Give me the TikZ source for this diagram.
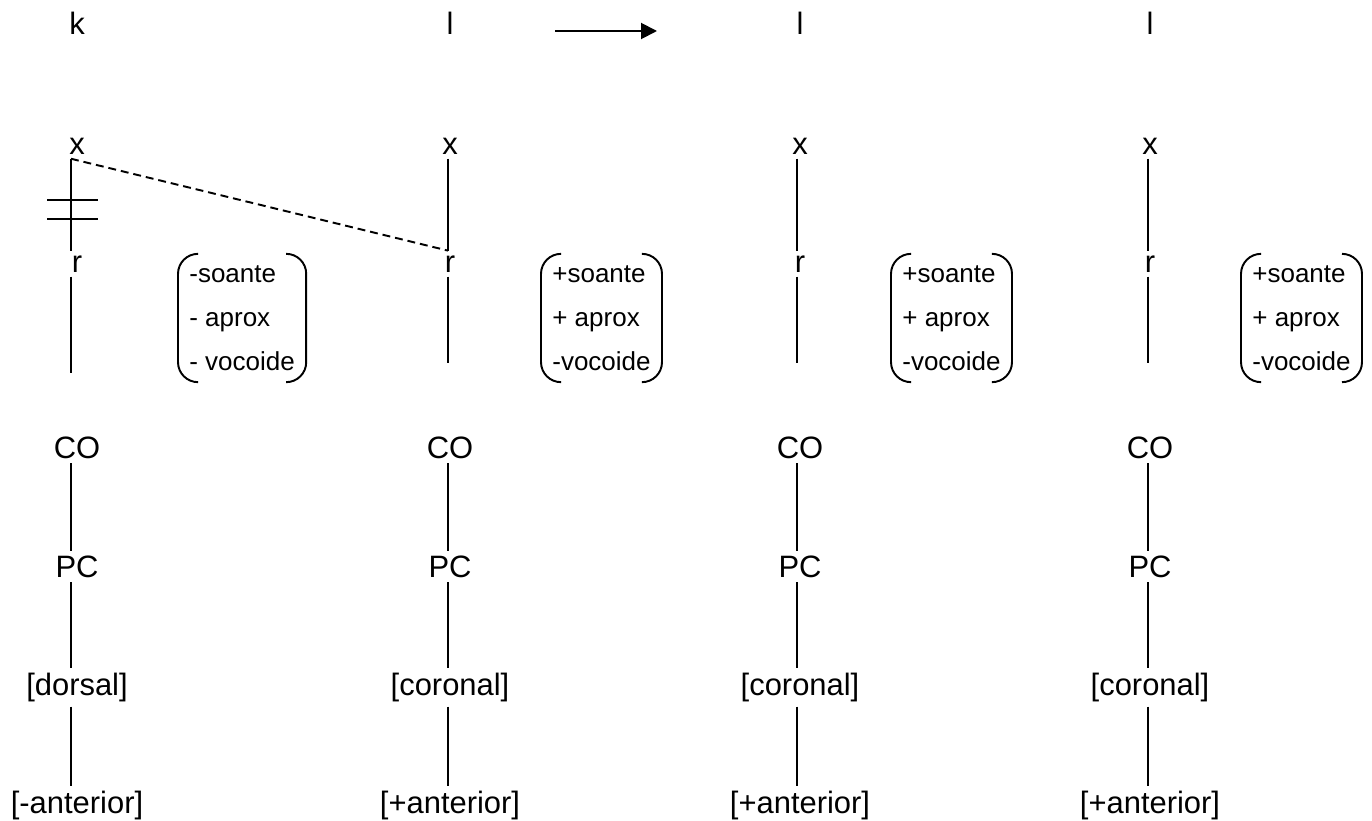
\documentclass[tikz,border=0pt]{standalone}
\usepackage{fontspec}
\setmainfont{Liberation Sans}
\usetikzlibrary{calc,arrows.meta}
\tikzset{
    lab/.style={
        font=\fontsize{17.6}{21}\selectfont, inner sep=2.5pt, anchor=base
    },
    feat/.style={
        font=\fontsize{14.8}{25.2}\selectfont, align=left,
        inner xsep=0.22cm, inner ysep=0.22cm, anchor=west
    }
}
% round brackets around a feature node
\newcommand{\featparens}[1]{%
  \draw[line width=1.1pt, rounded corners=0.4cm]
    ($(#1.north west)+(20,0)$) -- (#1.north west) -- (#1.south west) -- ($(#1.south west)+(20,0)$);
  \draw[line width=1.1pt, rounded corners=0.4cm]
    ($(#1.north east)+(-20,0)$) -- (#1.north east) -- (#1.south east) -- ($(#1.south east)+(-20,0)$);
}

\begin{document}
\begin{tikzpicture}[x=0.02cm, y=-0.02cm]

\tikzset{
  link/.style={line width=1.1pt},
  gone/.style={line width=1.1pt, dash pattern=on 4.5pt off 2.8pt}
}

\useasboundingbox (0,0) rectangle (1372,821);

% column axes
\coordinate (ax1) at (71,0);
\coordinate (ax2) at (448,0);
\coordinate (ax3) at (797,0);
\coordinate (ax4) at (1148,0);

% segments
\node[lab] (seg1) at (77,35) {k};
\node[lab] (seg2) at (450,35) {l};
\node[lab] (seg3) at (800,35) {l};
\node[lab] (seg4) at (1150,35) {l};

% timing slots
\node[lab] (x1) at (77,154) {x};
\node[lab] (x2) at (450,154) {x};
\node[lab] (x3) at (800,154) {x};
\node[lab] (x4) at (1150,154) {x};

% root
\node[lab] (r1) at (77,272) {r};
\node[lab] (r2) at (450,272) {r};
\node[lab] (r3) at (800,272) {r};
\node[lab] (r4) at (1150,272) {r};

\coordinate (rend1) at (71,373);
\coordinate (rend2) at (448,363);
\coordinate (rend3) at (797,363);
\coordinate (rend4) at (1148,363);

% root features
\node[feat] (f1) at (178,318) {-soante\\- aprox\\- vocoide};
\node[feat] (f2) at (541,318) {+soante\\+ aprox\\-vocoide};
\node[feat] (f3) at (891,318) {+soante\\+ aprox\\-vocoide};
\node[feat] (f4) at (1241,318) {+soante\\+ aprox\\-vocoide};
\featparens{f1}
\featparens{f2}
\featparens{f3}
\featparens{f4}

% oral cavity, place
\node[lab] (co1) at (77,458) {CO};
\node[lab] (co2) at (450,458) {CO};
\node[lab] (co3) at (800,458) {CO};
\node[lab] (co4) at (1150,458) {CO};

\node[lab] (pc1) at (77,577) {PC};
\node[lab] (pc2) at (450,577) {PC};
\node[lab] (pc3) at (800,577) {PC};
\node[lab] (pc4) at (1150,577) {PC};

\node[lab] (art1) at (77,695.5) {[dorsal]};
\node[lab] (art2) at (450,695.5) {[coronal]};
\node[lab] (art3) at (800,695.5) {[coronal]};
\node[lab] (art4) at (1150,695.5) {[coronal]};

\node[lab] (ant1) at (77,813.5) {[-anterior]};
\node[lab] (ant2) at (450,813.5) {[+anterior]};
\node[lab] (ant3) at (800,813.5) {[+anterior]};
\node[lab] (ant4) at (1150,813.5) {[+anterior]};

% association lines
\draw[link] (x1.south -| ax1) -- (r1.north -| ax1);
\draw[link] (x2.south -| ax2) -- (r2.north -| ax2);
\draw[link] (x3.south -| ax3) -- (r3.north -| ax3);
\draw[link] (x4.south -| ax4) -- (r4.north -| ax4);

\draw[link] (r1.south -| ax1) -- (rend1);
\draw[link] (r2.south -| ax2) -- (rend2);
\draw[link] (r3.south -| ax3) -- (rend3);
\draw[link] (r4.south -| ax4) -- (rend4);

\draw[link] (co1.south -| ax1) -- (pc1.north -| ax1);
\draw[link] (co2.south -| ax2) -- (pc2.north -| ax2);
\draw[link] (co3.south -| ax3) -- (pc3.north -| ax3);
\draw[link] (co4.south -| ax4) -- (pc4.north -| ax4);

\draw[link] (pc1.south -| ax1) -- (art1.north -| ax1);
\draw[link] (pc2.south -| ax2) -- (art2.north -| ax2);
\draw[link] (pc3.south -| ax3) -- (art3.north -| ax3);
\draw[link] (pc4.south -| ax4) -- (art4.north -| ax4);

\draw[link] (art1.south -| ax1) -- (ant1.north -| ax1);
\draw[link] (art2.south -| ax2) -- (ant2.north -| ax2);
\draw[link] (art3.south -| ax3) -- (ant3.north -| ax3);
\draw[link] (art4.south -| ax4) -- (ant4.north -| ax4);

% delinking and spreading
\path (x1.south -| ax1) -- (r1.north -| ax1)
  coordinate[pos=0.45] (cutA) coordinate[pos=0.66] (cutB);
\draw[link] (cutA) ++(-24,0) -- ++(51,0);
\draw[link] (cutB) ++(-24,0) -- ++(51,0);
\draw[gone] (x1.south -| ax1) -- (r2.north -| ax2);

% rule arrow
\coordinate (arrS) at (555,31);
\coordinate (arrE) at (657,31);
\draw[link, -{Triangle[length=0.32cm, width=0.32cm]}] (arrS) -- (arrE);

\end{tikzpicture}
\end{document}
